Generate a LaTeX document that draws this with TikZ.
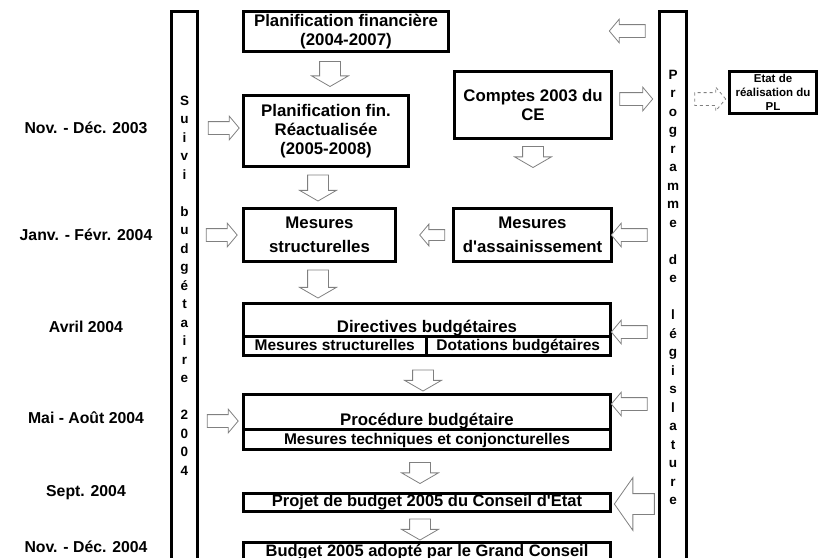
\documentclass[tikz,border=0pt]{standalone}
\usepackage{fontspec}
\setmainfont{Liberation Sans}
\usetikzlibrary{positioning,shapes.arrows}

\begin{document}
\begin{tikzpicture}[x=1pt,y=-1pt,
  boxtext/.style={inner sep=0pt,font=\bfseries\fontsize{16.8}{19}\selectfont},
  box/.style={boxtext,draw,line width=3pt,align=center},
  linebox/.style={box,text height=12pt,text depth=3.5pt,font=\bfseries\fontsize{16.5}{19}\selectfont},
  subbox/.style={box,text height=12pt,text depth=2pt,font=\bfseries\fontsize{15.5}{18}\selectfont},
  bar/.style={draw,line width=3pt,minimum width=27pt,minimum height=568.5pt},
  barletter/.style={inner sep=0pt,anchor=base,font=\bfseries\fontsize{13.5}{15}\selectfont},
  datelbl/.style={inner sep=0pt,font=\bfseries\fontsize{15.8}{18}\selectfont},
  blockarrow/.style={single arrow,draw=gray,line width=0.8pt,fill=white,
    inner xsep=0pt,single arrow head indent=0pt},
  downarrow/.style={blockarrow,rotate=-90,inner ysep=10pt,
    single arrow head extend=8pt,single arrow tip angle=120,minimum height=25pt},
  rightarrow/.style={blockarrow,inner ysep=6pt,
    single arrow head extend=5.5pt,single arrow tip angle=100,minimum height=31pt},
  leftarrow/.style={rightarrow,rotate=180,minimum height=36pt},
]
\useasboundingbox (0,0) rectangle (818,557);
\clip (0,0) rectangle (818,557);

% side bars
\node[bar,minimum width=26pt] (suivi) at (184.5,295.75) {};
\node[bar] (prog) at (673,295.75) {};
\foreach \c [count=\k from 0] in {S,u,i,v,i,{},b,u,d,g,é,t,a,i,r,e,{},2,0,0,4}
  \node[barletter] (suivi-\k) at (184.5,{105+18.5*\k}) {\c};
\foreach \c [count=\k from 0] in {P,r,o,g,r,a,m,m,e,{},d,e,{},l,é,g,i,s,l,a,t,u,r,e}
  \node[barletter] (prog-\k) at (673,{79+18.5*\k}) {\c};

% dates
\node[datelbl] (nov03) at (86,128) {Nov. - Déc. 2003};
\node[datelbl] (janv04) at (86,235) {Janv. - Févr. 2004};
\node[datelbl] (avr04) at (86,327) {Avril 2004};
\node[datelbl] (mai04) at (86,418) {Mai - Août 2004};
\node[datelbl] (sept04) at (86,493) {Sept. 2004};
\node[datelbl] (nov04) at (86,547) {Nov. - Déc. 2004};

% boxes
\node[box,minimum width=205pt,minimum height=40pt] (plan) at (346,31.5) {Planification financière\\(2004-2007)};
\node[box,minimum width=165pt,minimum height=71pt] (planre) at (326,131) {Planification fin.\\Réactualisée\\(2005-2008)};
\node[box,minimum width=157pt,minimum height=67pt] (comptes) at (533,105) {Comptes 2003 du\\CE};
\node[box,minimum width=152pt,minimum height=53pt] (messtr) at (319.5,235) {Mesures\\[5pt]structurelles};
\node[box,minimum width=158pt,minimum height=53pt] (mesass) at (532.5,235) {Mesures\\[5pt]d\textquotesingle assainissement};

\node[box,minimum width=367pt,minimum height=32.5pt] (dir) at (427,319.75) {};
\node[boxtext,anchor=base,yshift=5pt] (dir-t) at (dir.south) {Directives budgétaires};
\node[subbox,minimum width=182.5pt,minimum height=19.5pt] (dir-ms) at (334.75,345.75) {Mesures structurelles};
\node[subbox,minimum width=184.5pt,minimum height=19.5pt] (dir-db) at (518.25,345.75) {Dotations budgétaires};

\node[box,minimum width=367pt,minimum height=34.5pt] (proc) at (427,411.75) {};
\node[boxtext,anchor=base,yshift=5pt] (proc-t) at (proc.south) {Procédure budgétaire};
\node[subbox,minimum width=367pt,minimum height=20.5pt] (proc-mt) at (427,439.25) {Mesures techniques et conjoncturelles};

\node[linebox,minimum width=367pt,minimum height=18.5pt] (projet) at (427,502.5) {Projet de budget 2005 du Conseil d\textquotesingle Etat};
\node[linebox,minimum width=367pt,minimum height=20pt] (budget) at (427,552) {Budget 2005 adopté par le Grand Conseil};

\node[box,line width=2.5pt,minimum width=87pt,minimum height=42pt,
  font=\bfseries\fontsize{11.5}{14}\selectfont] (etat) at (773,92.5) {Etat de\\réalisation du\\PL};

% block arrows
\node[downarrow] (a-plan) at (330,71) {};
\node[downarrow,minimum height=26pt] (a-planre) at (318,185) {};
\node[downarrow,minimum height=28pt] (a-messtr) at (318,281) {};
\node[downarrow,minimum height=21pt] (a-comptes) at (533,154) {};
\node[downarrow,minimum height=21pt] (a-dir) at (423,377.5) {};
\node[downarrow,minimum height=21pt] (a-proc) at (420,470) {};
\node[downarrow,minimum height=21pt] (a-projet) at (420,526.5) {};

\node[rightarrow] (s-planre) at (221,128) {};
\node[rightarrow] (s-messtr) at (219,235) {};
\node[rightarrow] (s-proc) at (220,421) {};

\node[leftarrow] (p-plan) at (630,31) {};
\node[leftarrow] (p-mesass) at (632,235) {};
\node[leftarrow] (p-dir) at (632,332) {};
\node[leftarrow] (p-proc) at (632,404) {};
\node[leftarrow,inner ysep=10pt,single arrow head extend=16pt,
  single arrow tip angle=110,minimum height=40pt] (p-projet) at (638,504) {};
\node[leftarrow,minimum height=25pt,inner ysep=5pt] (a-mesass) at (434.5,235) {};

\node[rightarrow,minimum height=33pt] (a-comptes-prog) at (633.5,99) {};
\node[rightarrow,dashed] (a-etat) at (707.5,99) {};
\end{tikzpicture}
\end{document}
